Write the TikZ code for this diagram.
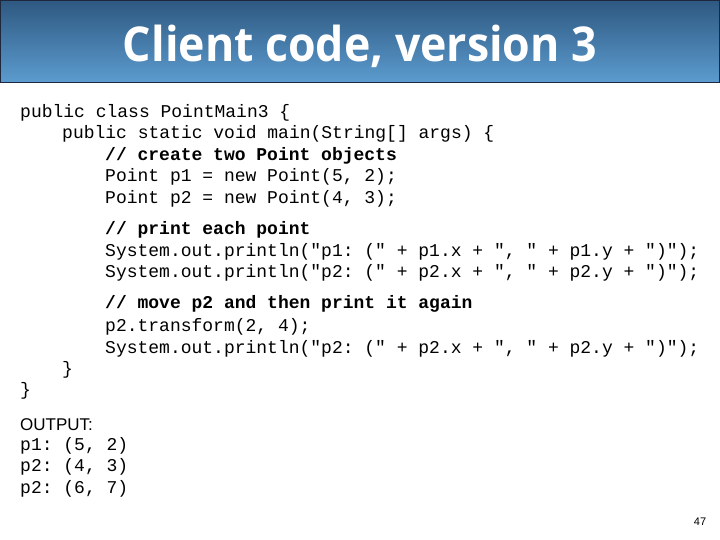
\documentclass[tikz,border=0pt]{standalone}
\usepackage{fontspec}
\setmainfont{Liberation Sans}
\setmonofont{Liberation Mono}
\newfontfamily\titlefont{Open Sans}
\definecolor{bartop}{RGB}{46,88,128}
\definecolor{barbot}{RGB}{92,156,208}
\definecolor{barline}{RGB}{30,40,60}
\tikzset{
  codeline/.style={anchor=west, inner sep=0pt, font=\fontsize{18}{18}\ttfamily},
  comment/.style={codeline, font=\fontsize{18}{18}\ttfamily\bfseries}
}
\begin{document}
\begin{tikzpicture}[x=1pt,y=-1pt]
\useasboundingbox (0,0) rectangle (720,540);
% title bar
\shade[top color=bartop, bottom color=barbot] (0,0) rectangle (720,83);
\draw[barline, line width=1pt] (0.5,0.5) rectangle (719.5,83);
\node[text=white, xscale=0.93, font=\titlefont\bfseries\fontsize{48}{48}\selectfont] (title) at (360,46) {Client code, version 3};

% code
\node[codeline] (c1) at (20,113) {public class PointMain3 \{};
\node[codeline] (c2) at (62,134) {public static void main(String[] args) \{};
\node[comment] (c3) at (105,156) {// create two Point objects};
\node[codeline] (c4) at (105,177) {Point p1 = new Point(5, 2);};
\node[codeline] (c5) at (105,199) {Point p2 = new Point(4, 3);};
\node[comment] (c6) at (105,230) {// print each point};
\node[codeline] (c7) at (105,252) {System.out.println("p1: (" + p1.x + ", " + p1.y + ")");};
\node[codeline] (c8) at (105,273) {System.out.println("p2: (" + p2.x + ", " + p2.y + ")");};
\node[comment] (c9) at (105,304) {// move p2 and then print it again};
\node[codeline] (c10) at (105,327) {p2.transform(2, 4);};
\node[codeline] (c11) at (105,349) {System.out.println("p2: (" + p2.x + ", " + p2.y + ")");};
\node[codeline] (c12) at (62,370) {\}};
\node[codeline] (c13) at (20,391) {\}};

% output
\node[anchor=west, inner sep=0pt, font=\fontsize{17}{17}\selectfont] (out) at (20,425) {OUTPUT:};
\node[codeline] (o1) at (20,446) {p1: (5, 2)};
\node[codeline] (o2) at (20,467) {p2: (4, 3)};
\node[codeline] (o3) at (20,489) {p2: (6, 7)};

\node[font=\fontsize{11}{11}\selectfont] (page) at (700,522) {47};
\end{tikzpicture}
\end{document}
